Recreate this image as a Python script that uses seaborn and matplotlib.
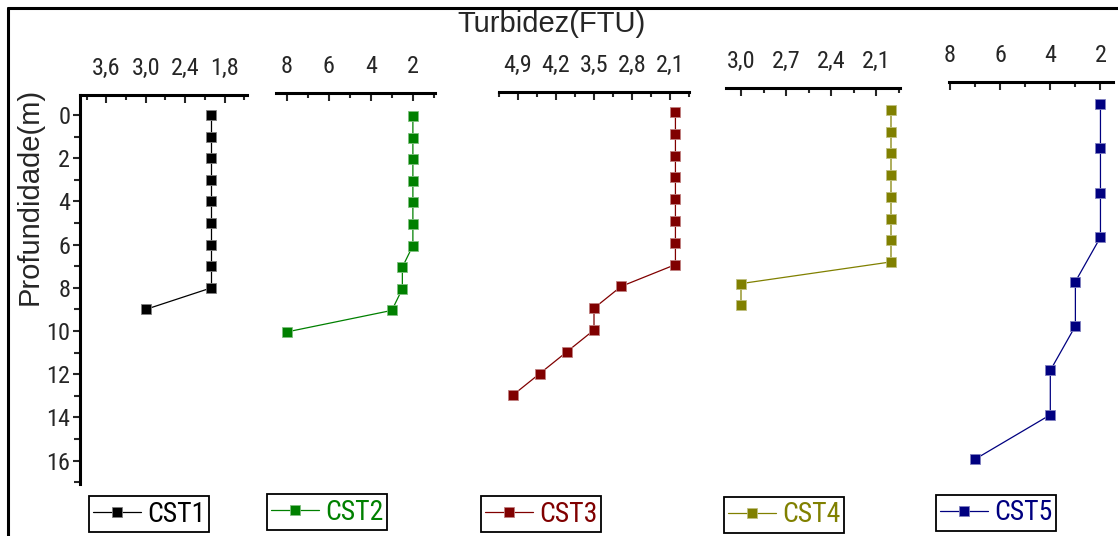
import matplotlib
matplotlib.use("Agg")
import matplotlib.pyplot as plt
from matplotlib.lines import Line2D
from matplotlib.ticker import MultipleLocator, FixedLocator, FuncFormatter
import seaborn as sns
import pandas as pd

# Turbidity profiles (FTU) by depth (m) at five stations
stations = ["CST1", "CST2", "CST3", "CST4", "CST5"]

depth_cst1 = [0, 1, 2, 3, 4, 5, 6, 7, 8, 9]
turb_cst1 = [2.0, 2.0, 2.0, 2.0, 2.0, 2.0, 2.0, 2.0, 2.0, 3.0]

depth_cst2 = [0, 1, 2, 3, 4, 5, 6, 7, 8, 9, 10]
turb_cst2 = [2.0, 2.0, 2.0, 2.0, 2.0, 2.0, 2.0, 2.5, 2.5, 3.0, 8.0]

depth_cst3 = [0, 1, 2, 3, 4, 5, 6, 7, 8, 9, 10, 11, 12, 13]
turb_cst3 = [2.0, 2.0, 2.0, 2.0, 2.0, 2.0, 2.0, 2.0, 3.0, 3.5, 3.5, 4.0, 4.5, 5.0]

depth_cst4 = [0, 1, 2, 3, 4, 5, 6, 7, 8, 9]
turb_cst4 = [2.0, 2.0, 2.0, 2.0, 2.0, 2.0, 2.0, 2.0, 3.0, 3.0]

depth_cst5 = [0, 2, 4, 6, 8, 10, 12, 14, 16]
turb_cst5 = [2.0, 2.0, 2.0, 2.0, 3.0, 3.0, 4.0, 4.0, 7.0]

# Top-axis tick values per station
major_ticks = [
    [3.6, 3.0, 2.4, 1.8],
    [8, 6, 4, 2],
    [4.9, 4.2, 3.5, 2.8, 2.1],
    [3.0, 2.7, 2.4, 2.1],
    [8, 6, 4, 2],
]
minor_ticks = [
    [3.9, 3.3, 2.7, 2.1, 1.5],
    [7, 5, 3, 1],
    [5.25, 4.55, 3.85, 3.15, 2.45, 1.75],
    [2.85, 2.55, 2.25, 1.95],
    [7, 5, 3],
]
tick_decimals = [1, 0, 1, 1, 0]
x_limits = [(4.0, 1.46), (8.5, 0.95), (5.25, 1.75), (3.1, 1.94), (8.04, 1.5)]

colors = ["#000000", "#008000", "#800000", "#808000", "#000080"]
edge_colors = ["#808080", "#80c080", "#c08080", "#c0c080", "#8080c0"]

frames = []
for name, d, t in zip(
    stations,
    [depth_cst1, depth_cst2, depth_cst3, depth_cst4, depth_cst5],
    [turb_cst1, turb_cst2, turb_cst3, turb_cst4, turb_cst5],
):
    frames.append(pd.DataFrame({"station": name, "depth": d, "turbidity": t}))
df = pd.concat(frames, ignore_index=True)

# ---- layout (pixels) ----
W, H = 1118, 536
# left, right, axis-line y, zero-depth y, px per metre
layout = [
    (80, 247, 95, 115, 21.6),
    (276, 435, 93, 116, 21.6),
    (499, 689, 92, 112, 21.8),
    (726, 900, 88, 110, 21.7),
    (949, 1113, 82, 104, 22.2),
]
legend_centers = [(149, 514), (327, 512), (541, 514), (784, 515), (996, 513)]
Y_BOTTOM = 17.1

sns.set_style("white")
narrow = ["Roboto Condensed", "PT Sans Narrow", "Archivo Narrow", "DejaVu Sans"]
plt.rcParams["font.family"] = narrow
plt.rcParams["font.weight"] = "normal"

fig = plt.figure(figsize=(W / 100, H / 100), dpi=100)


def comma_fmt(dec):
    return FuncFormatter(lambda v, p: f"{v:.{dec}f}".replace(".", ","))


for i, name in enumerate(stations):
    x0, x1, top, zero, scale = layout[i]
    y_top = -(zero - top) / scale
    bottom = zero + Y_BOTTOM * scale
    ax = fig.add_axes([x0 / W, 1 - bottom / H, (x1 - x0) / W, (bottom - top) / H])
    ax.set_facecolor("none")

    sub = df[df["station"] == name]
    sns.lineplot(
        data=sub, x="turbidity", y="depth", ax=ax, sort=False, estimator=None,
        orient="y", color=colors[i], linewidth=0.9, marker="s", markersize=7,
        markeredgecolor=edge_colors[i], markeredgewidth=0.6, label=name,
    )

    ax.set_xlim(*x_limits[i])
    ax.set_ylim(Y_BOTTOM, y_top)
    ax.xaxis.set_ticks_position("top")
    ax.xaxis.set_label_position("top")
    ax.xaxis.set_major_locator(FixedLocator(major_ticks[i]))
    ax.xaxis.set_minor_locator(FixedLocator(minor_ticks[i]))
    ax.xaxis.set_major_formatter(comma_fmt(tick_decimals[i]))
    ax.tick_params(axis="x", which="major", direction="in", length=6, width=1.5,
                   pad=11, labelsize=17.5, top=True, bottom=False)
    ax.tick_params(axis="x", which="minor", direction="in", length=3.5, width=1.5,
                   top=True, bottom=False)
    ax.set_xlabel("")
    ax.set_ylabel("")

    for side in ["right", "bottom"]:
        ax.spines[side].set_visible(False)
    ax.spines["top"].set_linewidth(2.2)
    ax.spines["top"].set_color("black")

    if i == 0:
        ax.spines["left"].set_linewidth(2.2)
        ax.spines["left"].set_color("black")
        ax.yaxis.set_major_locator(MultipleLocator(2))
        ax.yaxis.set_minor_locator(MultipleLocator(1))
        ax.tick_params(axis="y", which="major", direction="out", length=5, width=1.5,
                       pad=2, labelsize=17.5, left=True)
        ax.tick_params(axis="y", which="minor", direction="out", length=4, width=1.5,
                       left=True)
    else:
        ax.spines["left"].set_visible(False)
        ax.tick_params(axis="y", which="both", left=False, labelleft=False)

    handles, labels = ax.get_legend_handles_labels()
    ax.get_legend().remove()
    cx, cy = legend_centers[i]
    leg = fig.legend(
        handles, labels, loc="center", bbox_to_anchor=(cx / W, 1 - cy / H),
        fontsize=20, frameon=True, fancybox=False, framealpha=1, edgecolor="black",
        handlelength=1.75, handletextpad=0.2, borderpad=0.15, borderaxespad=0,
        markerscale=1.0,
    )
    leg.get_frame().set_linewidth(1.3)
    for txt in leg.get_texts():
        txt.set_color(colors[i])

# Title and depth label
fig.text(552 / W, 1 - 32 / H, "Turbidez(FTU)", ha="center", va="baseline",
         fontsize=21, family="Liberation Sans", fontweight="normal")
fig.text(30 / W, 1 - 196 / H, "Profundidade(m)", ha="center", va="center",
         rotation=90, fontsize=21, family="Liberation Sans", fontweight="normal")

# Figure frame (left and top edges)
fig.add_artist(Line2D([8 / W, 8 / W], [0, 1 - 8 / H], color="black", linewidth=2.2,
                      transform=fig.transFigure))
fig.add_artist(Line2D([8 / W, 1], [1 - 8 / H, 1 - 8 / H], color="black", linewidth=2.2,
                      transform=fig.transFigure))

fig.savefig("out.png", dpi=100)
